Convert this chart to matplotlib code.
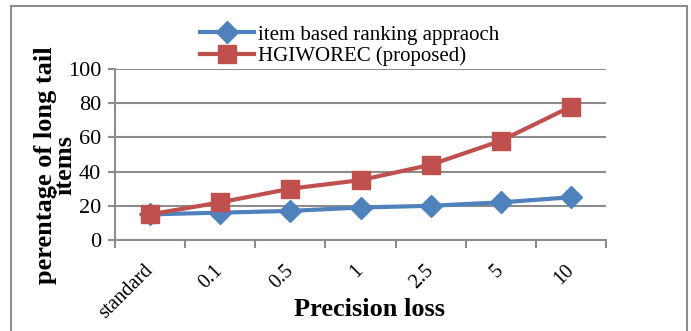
import numpy as np
import matplotlib.pyplot as plt
from matplotlib.patches import Rectangle

categories = ["standard", "0.1", "0.5", "1", "2.5", "5", "10"]
item_based = [15, 16, 17, 19, 20, 22, 25]
hgiworec = [15, 22, 30, 35, 44, 58, 78]
yticks = [0, 20, 40, 60, 80, 100]

plt.rcParams['font.family'] = ['Liberation Serif', 'DejaVu Serif']

fig = plt.figure(figsize=(6.91, 3.31), dpi=100)
ax = fig.add_axes([115 / 691, 1 - 240 / 331, 491 / 691, 171 / 331])

x = np.arange(len(categories))
ax.plot(x, item_based, color='#4F81BD', lw=3, marker='D', ms=11,
        label='item based ranking appraoch', zorder=3)
ax.plot(x, hgiworec, color='#C0504D', lw=3, marker='s', ms=13,
        label='HGIWOREC (proposed)', zorder=4)

ax.set_xlim(-0.5, len(categories) - 0.5)
ax.set_ylim(0, 100)
ax.set_yticks(yticks)
ax.set_yticklabels([str(v) for v in yticks], fontsize=16)
ax.yaxis.grid(True, color='#8c8c8c', lw=1.5)
ax.set_axisbelow(True)

ax.set_xticks(x)
ax.set_xticklabels(categories, rotation=45, ha='right', va='center',
                   rotation_mode='anchor', fontsize=14.5)
ax.set_xticks(np.arange(len(categories) + 1) - 0.5, minor=True)
ax.tick_params(axis='x', which='major', length=0, pad=20)
ax.tick_params(axis='x', which='minor', length=6, color='#8c8c8c', width=1.5)
ax.tick_params(axis='y', length=5, color='#8c8c8c', width=1.5, pad=5)

for s in ['top', 'right']:
    ax.spines[s].set_visible(False)
for s in ['left', 'bottom']:
    ax.spines[s].set_color('#8c8c8c')
    ax.spines[s].set_linewidth(1.5)

fig.text(370 / 691, 1 - 310 / 331, 'Precision loss', ha='center', va='center',
         fontsize=19, fontweight='bold')

fig.text(55 / 691, 1 - 165 / 331, 'perentage of long tail\nitems', rotation=90,
         ha='center', va='center', multialignment='center',
         fontsize=19, fontweight='bold', linespacing=0.8)

ax.legend(loc='upper left', bbox_to_anchor=(200 / 691, 1 - 25 / 331),
          bbox_transform=fig.transFigure, frameon=False, fontsize=15,
          handlelength=2.6, handletextpad=0.2, labelspacing=0.1,
          borderpad=0, borderaxespad=0)

fig.patches.append(Rectangle((11 / 691, -0.1), 676 / 691, 1.1 - 6 / 331,
                             transform=fig.transFigure, fill=False,
                             edgecolor='#8c8c8c', lw=1.5, clip_on=False))

fig.savefig('out.png', dpi=100)
